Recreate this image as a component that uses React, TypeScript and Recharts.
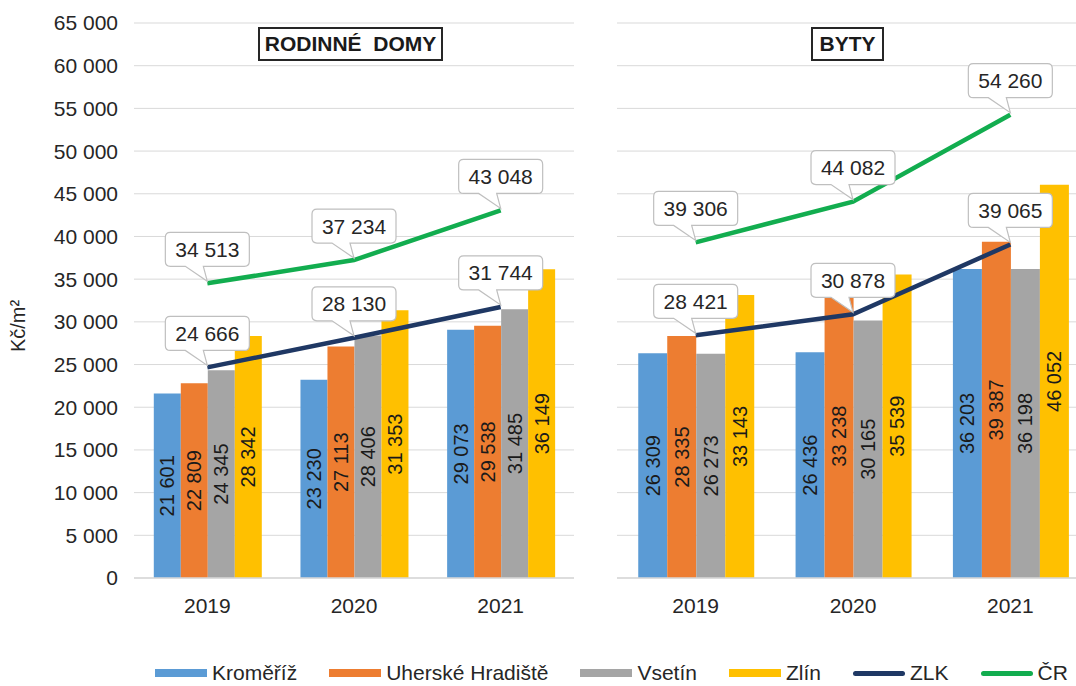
import React from "react";
import {
  ComposedChart,
  Bar,
  Line,
  XAxis,
  YAxis,
  CartesianGrid,
  LabelList,
  Label,
} from "recharts";

const YEARS = ["2019", "2020", "2021"];

// Rodinné domy (Kč/m²)
const RD_KROMERIZ = [21601, 23230, 29073];
const RD_UH = [22809, 27113, 29538];
const RD_VSETIN = [24345, 28406, 31485];
const RD_ZLIN = [28342, 31353, 36149];
const RD_ZLK = [24666, 28130, 31744];
const RD_CR = [34513, 37234, 43048];

// Byty (Kč/m²)
const BY_KROMERIZ = [26309, 26436, 36203];
const BY_UH = [28335, 33238, 39387];
const BY_VSETIN = [26273, 30165, 36198];
const BY_ZLIN = [33143, 35539, 46052];
const BY_ZLK = [28421, 30878, 39065];
const BY_CR = [39306, 44082, 54260];

const Y_TICKS = [0, 5000, 10000, 15000, 20000, 25000, 30000, 35000, 40000, 45000, 50000, 55000, 60000, 65000];

const BARS = [
  { key: "kromeriz", name: "Kroměříž", color: "#5B9BD5" },
  { key: "uh", name: "Uherské Hradiště", color: "#ED7D31" },
  { key: "vsetin", name: "Vsetín", color: "#A5A5A5" },
  { key: "zlin", name: "Zlín", color: "#FFC000" },
];
const LINES = [
  { key: "zlk", name: "ZLK", color: "#1F3864" },
  { key: "cr", name: "ČR", color: "#12AD4F" },
];

const FONT = '"Liberation Sans", Arial, sans-serif';
const TEXT = "#262626";

const build = (k: number[], uh: number[], vs: number[], zl: number[], zlk: number[], cr: number[]) =>
  YEARS.map((year, i) => ({
    year,
    kromeriz: k[i],
    uh: uh[i],
    vsetin: vs[i],
    zlin: zl[i],
    zlk: zlk[i],
    cr: cr[i],
  }));

const rdData = build(RD_KROMERIZ, RD_UH, RD_VSETIN, RD_ZLIN, RD_ZLK, RD_CR);
const bytyData = build(BY_KROMERIZ, BY_UH, BY_VSETIN, BY_ZLIN, BY_ZLK, BY_CR);

const fmt = (v: number) => String(v).replace(/\B(?=(\d{3})+(?!\d))/g, " ");

// vertical value inside the bar
const BarValue = (props: any) => {
  const x = Number(props.x);
  const y = Number(props.y);
  const cx = x + Number(props.width) / 2;
  const cy = y + Number(props.height) / 2;
  return (
    <text
      x={cx}
      y={cy}
      transform={`rotate(-90 ${cx} ${cy})`}
      textAnchor="middle"
      dominantBaseline="central"
      fontSize={20}
      fill="#1a1a1a"
    >
      {fmt(props.value)}
    </text>
  );
};

// callout box above a line point
const Callout = (props: any) => {
  const x = Number(props.x);
  const y = Number(props.y);
  const w = 84;
  const h = 34;
  const r = 5;
  const bx = x - w / 2;
  const by = y - 17 - h;
  const bb = by + h;
  const d = [
    `M ${bx + r} ${by}`,
    `L ${bx + w - r} ${by}`,
    `Q ${bx + w} ${by} ${bx + w} ${by + r}`,
    `L ${bx + w} ${bb - r}`,
    `Q ${bx + w} ${bb} ${bx + w - r} ${bb}`,
    `L ${x - 4} ${bb}`,
    `L ${x} ${y - 2}`,
    `L ${x - 22} ${bb}`,
    `L ${bx + r} ${bb}`,
    `Q ${bx} ${bb} ${bx} ${bb - r}`,
    `L ${bx} ${by + r}`,
    `Q ${bx} ${by} ${bx + r} ${by}`,
    "Z",
  ].join(" ");
  return (
    <g>
      <path d={d} fill="#fff" stroke="#bfbfbf" strokeWidth={1.2} />
      <text x={x} y={by + h / 2} textAnchor="middle" dominantBaseline="central" fontSize={21} fill={TEXT}>
        {fmt(props.value)}
      </text>
    </g>
  );
};

const YTitle = () => (
  <text x={25} y={326} transform="rotate(-90 25 326)" textAnchor="middle" fontSize={20} fill={TEXT}>
    Kč/m²
  </text>
);

function Panel({ data, width, left, right, withAxis }: any) {
  return (
    <ComposedChart
      width={width}
      height={686}
      data={data}
      margin={{ top: 23, right, bottom: 78, left }}
      barCategoryGap="13.5%"
      barGap={0}
    >
      <CartesianGrid vertical={false} stroke="#d9d9d9" strokeWidth={1} />
      <XAxis
        dataKey="year"
        height={30}
        tickLine={false}
        axisLine={{ stroke: "#d9d9d9", strokeWidth: 1.5 }}
        tickSize={0}
        tickMargin={20}
        tick={{ fontSize: 21, fill: TEXT }}
      />
      <YAxis
        hide={!withAxis}
        width={134}
        domain={[0, 65000]}
        ticks={Y_TICKS}
        interval={0}
        axisLine={false}
        tickLine={false}
        tickSize={0}
        tickMargin={16}
        tick={{ fontSize: 21, fill: TEXT }}
        tickFormatter={fmt}
      >
        {withAxis && <Label content={<YTitle />} />}
      </YAxis>
      {BARS.map((b) => (
        <Bar key={b.key} dataKey={b.key} name={b.name} fill={b.color} isAnimationActive={false}>
          <LabelList dataKey={b.key} content={<BarValue />} />
        </Bar>
      ))}
      {LINES.map((l) => (
        <Line
          key={l.key}
          dataKey={l.key}
          name={l.name}
          stroke={l.color}
          strokeWidth={4.5}
          dot={false}
          type="linear"
          isAnimationActive={false}
        >
          <LabelList dataKey={l.key} content={<Callout />} />
        </Line>
      ))}
    </ComposedChart>
  );
}

const titleStyle: React.CSSProperties = {
  position: "absolute",
  top: 27,
  height: 34,
  boxSizing: "border-box",
  border: "2px solid #262626",
  background: "#fff",
  fontWeight: "bold",
  fontSize: 21,
  color: "#1a1a1a",
  display: "flex",
  alignItems: "center",
  justifyContent: "center",
  whiteSpace: "pre",
};

export default function App() {
  const legendItems = [
    ...BARS.map((b) => ({ ...b, line: false })),
    ...LINES.map((l) => ({ ...l, line: true })),
  ];
  return (
    <div
      style={{
        position: "absolute",
        left: 0,
        top: 0,
        width: 1076,
        height: 686,
        overflow: "hidden",
        background: "#fff",
        fontFamily: FONT,
      }}
    >
      <div style={{ position: "absolute", left: 0, top: 0 }}>
        <Panel data={rdData} width={590} left={0} right={16} withAxis />
      </div>
      <div style={{ position: "absolute", left: 600, top: 0 }}>
        <Panel data={bytyData} width={500} left={17} right={11} withAxis={false} />
      </div>
      <div style={{ ...titleStyle, left: 258, width: 185 }}>{"RODINNÉ  DOMY"}</div>
      <div style={{ ...titleStyle, left: 811, width: 73 }}>BYTY</div>
      <div
        style={{
          position: "absolute",
          left: 155,
          top: 661,
          display: "flex",
          alignItems: "center",
          fontSize: 21,
          color: TEXT,
          lineHeight: "24px",
          whiteSpace: "nowrap",
        }}
      >
        {legendItems.map((it) => (
          <div key={it.key} style={{ display: "flex", alignItems: "center", marginRight: 32 }}>
            <span
              style={{
                display: "inline-block",
                width: 52,
                height: it.line ? 5 : 8,
                borderRadius: it.line ? 3 : 0,
                background: it.color,
                marginRight: 5,
              }}
            />
            <span>{it.name}</span>
          </div>
        ))}
      </div>
    </div>
  );
}
